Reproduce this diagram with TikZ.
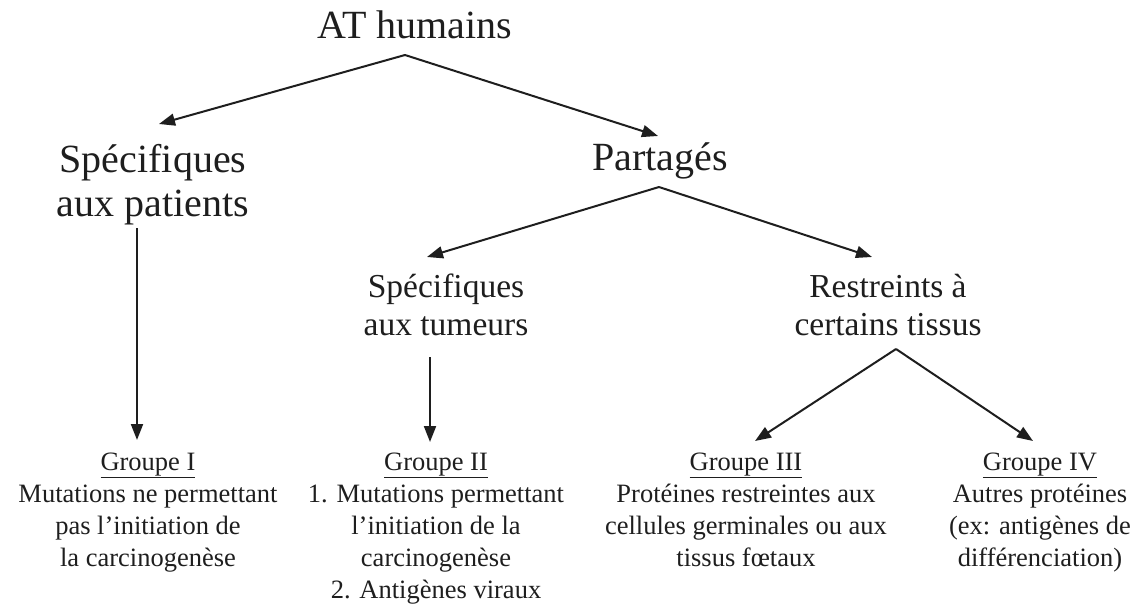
\documentclass[tikz,border=0pt]{standalone}
\usepackage{fontspec}
\setmainfont{Liberation Serif}
\usetikzlibrary{arrows.meta}
\definecolor{ink}{HTML}{1E1E1E}
\begin{document}
\begin{tikzpicture}[x=1pt,y=-1pt,
  txt/.style={align=center, anchor=base, inner sep=0pt, text=ink},
  big/.style={txt, font=\fontsize{40}{44}\selectfont},
  mid/.style={txt, font=\fontsize{33.5}{38}\selectfont},
  small/.style={txt, font=\fontsize{26.5}{32}\selectfont},
  arr/.style={line width=2pt, draw=ink, -{Triangle[length=16pt,width=12pt]}}
]
\useasboundingbox (0,0) rectangle (1140,610);

% nodes (anchor = baseline of the last line)
\node[big] (root) at (415,38) {AT humains};
\node[big] (pat) at (153,216) {Spécifiques\\aux patients};
\node[big] (part) at (660,170) {Partagés};
\node[mid] (tum) at (446,335) {Spécifiques\\aux tumeurs};
\node[mid] (res) at (888,335) {Restreints à\\certains tissus};
\node[small] (g1) at (148,566) {\underline{Groupe I}\\Mutations ne permettant\\pas l’initiation de\\la carcinogenèse};
\node[small] (g2) at (436,598) {\underline{Groupe II}\\1. Mutations permettant\\l’initiation de la\\carcinogenèse\\2. Antigènes viraux};
\node[small] (g3) at (746,566) {\underline{Groupe III}\\Protéines restreintes aux\\cellules germinales ou aux\\tissus fœtaux};
\node[small] (g4) at (1040,566) {\underline{Groupe IV}\\Autres protéines\\(ex: antigènes de\\différenciation)};

% connector end points
\coordinate (rootApex) at (405,55);
\coordinate (patIn) at (159,124);
\coordinate (partIn) at (658,136);
\coordinate (partApex) at (659,187);
\coordinate (tumIn) at (427,257);
\coordinate (resIn) at (872,257);
\coordinate (patOut) at (137,228);
\coordinate (g1In) at (137,440);
\coordinate (tumOut) at (430,357);
\coordinate (g2In) at (430,442);
\coordinate (resApex) at (896,349);
\coordinate (g3In) at (755,441);
\coordinate (g4In) at (1033,441);

% connectors
\draw[arr] (rootApex) -- (patIn);
\draw[arr] (rootApex) -- (partIn);
\draw[arr] (partApex) -- (tumIn);
\draw[arr] (partApex) -- (resIn);
\draw[arr] (patOut) -- (g1In);
\draw[arr] (tumOut) -- (g2In);
\draw[arr] (resApex) -- (g3In);
\draw[arr] (resApex) -- (g4In);
\end{tikzpicture}
\end{document}
